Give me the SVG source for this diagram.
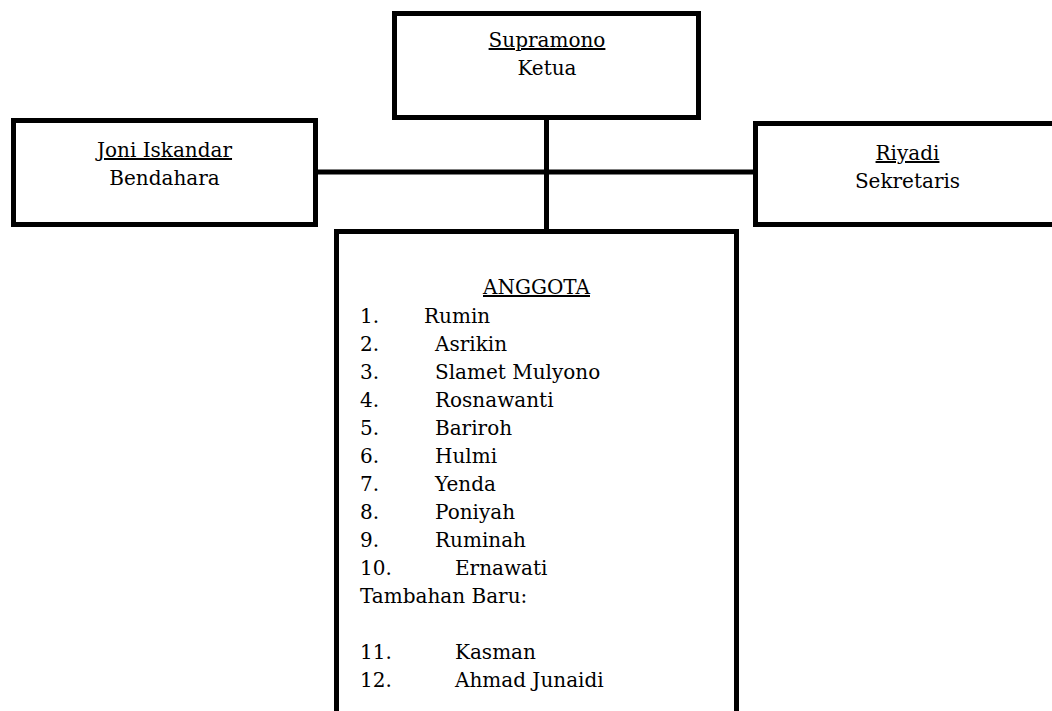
<svg xmlns="http://www.w3.org/2000/svg" width="1052" height="711" viewBox="0 0 1052 711">
<style>
.box{fill:#fff;stroke:#000;stroke-width:5}
.conn{stroke:#000;stroke-width:5;fill:none}
text{font-family:"DejaVu Serif","Liberation Serif",serif;font-size:20px;fill:#000}
.c{text-anchor:middle}
.u{text-decoration:underline}
</style>
<rect width="1052" height="711" fill="#fff"/>
<g id="connectors">
<line class="conn" x1="546.5" y1="117" x2="546.5" y2="232"/>
<line class="conn" x1="315" y1="172" x2="756" y2="172"/>
</g>
<g id="ketua">
<rect class="box" x="394.5" y="13.5" width="304" height="104"/>
<text class="c u" x="547" y="47">Supramono</text>
<text class="c" x="547" y="75">Ketua</text>
</g>
<g id="bendahara">
<rect class="box" x="13.5" y="120.5" width="302" height="104"/>
<text class="c u" x="164.5" y="157">Joni Iskandar</text>
<text class="c" x="164.5" y="185">Bendahara</text>
</g>
<g id="sekretaris">
<rect class="box" x="755.5" y="123.5" width="310" height="101"/>
<text class="c u" x="907.5" y="160">Riyadi</text>
<text class="c" x="907.5" y="188">Sekretaris</text>
</g>
<g id="anggota">
<rect class="box" x="336.5" y="231.5" width="400" height="500"/>
<text class="c u" x="536.5" y="294">ANGGOTA</text>
<text x="360" y="323">1.</text><text x="424" y="323">Rumin</text>
<text x="360" y="351">2.</text><text x="435" y="351">Asrikin</text>
<text x="360" y="379">3.</text><text x="435" y="379">Slamet Mulyono</text>
<text x="360" y="407">4.</text><text x="435" y="407">Rosnawanti</text>
<text x="360" y="435">5.</text><text x="435" y="435">Bariroh</text>
<text x="360" y="463">6.</text><text x="435" y="463">Hulmi</text>
<text x="360" y="491">7.</text><text x="435" y="491">Yenda</text>
<text x="360" y="519">8.</text><text x="435" y="519">Poniyah</text>
<text x="360" y="547">9.</text><text x="435" y="547">Ruminah</text>
<text x="360" y="575">10.</text><text x="455" y="575">Ernawati</text>
<text x="360" y="603">Tambahan Baru:</text>
<text x="360" y="659">11.</text><text x="455" y="659">Kasman</text>
<text x="360" y="687">12.</text><text x="455" y="687">Ahmad Junaidi</text>
</g>
</svg>
